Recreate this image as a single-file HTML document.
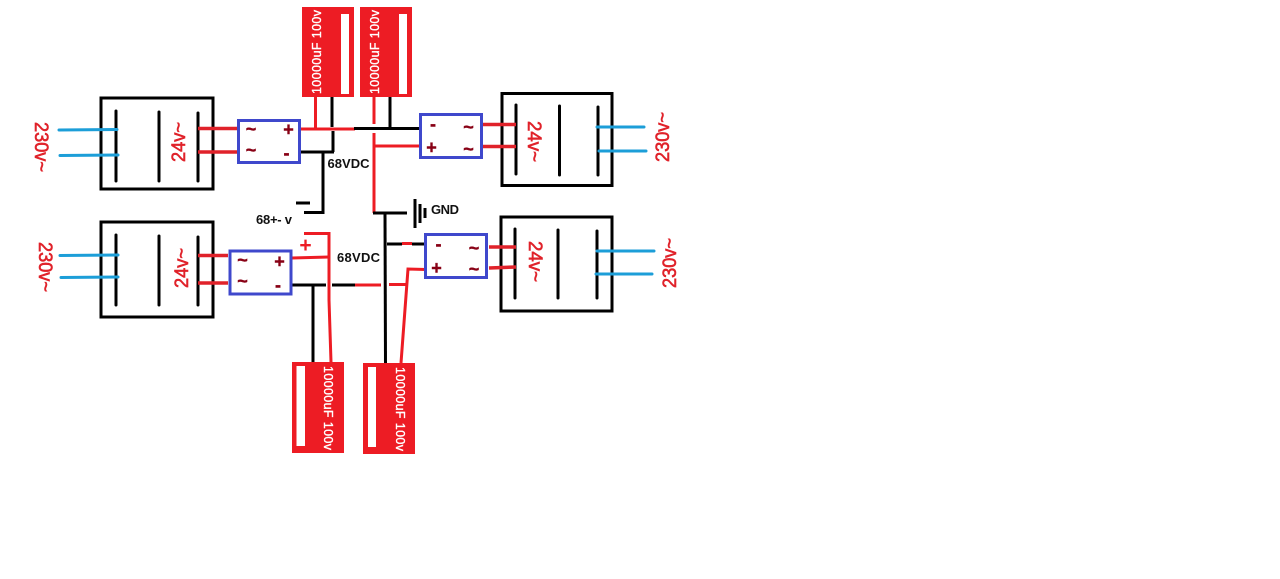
<!DOCTYPE html>
<html>
<head>
<meta charset="utf-8">
<style>
html,body{margin:0;padding:0;background:#fff;width:1280px;height:579px;overflow:hidden}
svg{display:block}
text{font-family:"Liberation Sans",sans-serif}
.cap{font-size:12.500px;fill:#fff;font-weight:400;stroke:#fff;stroke-width:.35}
.v{font-size:19px;fill:#e0222a;stroke:#e0222a;stroke-width:.6}
.lb{font-size:13px;font-weight:bold;fill:#111}
.br{fill:#880015;font-weight:bold;text-anchor:middle;stroke:#880015;stroke-width:.4}
</style>
</head>
<body>
<svg width="1280" height="579" viewBox="0 0 1280 579" xmlns="http://www.w3.org/2000/svg">
<rect width="1280" height="579" fill="#fff"/>

<!-- transformers -->
<g fill="none" stroke="#000" stroke-width="3">
<rect x="101" y="98" width="112" height="91"/>
<rect x="101" y="222" width="112" height="95"/>
<rect x="502" y="93.500" width="110" height="92"/>
<rect x="501" y="217" width="111" height="94"/>
</g>
<g stroke="#000" stroke-width="3" stroke-linecap="round">
<line x1="116" y1="111" x2="116" y2="181"/><line x1="159" y1="112" x2="159" y2="181"/><line x1="198" y1="113" x2="198" y2="181"/>
<line x1="116" y1="235" x2="116" y2="305"/><line x1="159" y1="236" x2="159" y2="305"/><line x1="198" y1="237" x2="198" y2="305"/>
<line x1="516" y1="105" x2="516" y2="174"/><line x1="559.500" y1="106" x2="559.500" y2="175"/><line x1="598" y1="107" x2="598" y2="175"/>
<line x1="515" y1="229" x2="515" y2="298"/><line x1="558" y1="230" x2="558" y2="298"/><line x1="597" y1="231" x2="597" y2="298"/>
</g>

<!-- mains wires -->
<g stroke="#1c9ed8" stroke-width="3" stroke-linecap="round">
<line x1="59" y1="130" x2="117" y2="129.500"/><line x1="60" y1="155.500" x2="118" y2="155"/>
<line x1="60" y1="255.500" x2="118" y2="255"/><line x1="61" y1="277.500" x2="118" y2="277"/>
<line x1="597" y1="127" x2="644" y2="127"/><line x1="599" y1="151" x2="646" y2="151"/>
<line x1="597" y1="251" x2="654" y2="251"/><line x1="596" y1="274" x2="652" y2="274"/>
</g>

<!-- secondary wires -->
<g stroke="#e0222a" stroke-width="3.500">
<line x1="198" y1="128.500" x2="237" y2="128.500"/><line x1="198" y1="152" x2="237" y2="152"/>
<line x1="198" y1="255.500" x2="228" y2="255.500"/><line x1="198" y1="283" x2="228" y2="283"/>
<line x1="483" y1="124.500" x2="516" y2="124.500"/><line x1="483" y1="146.500" x2="516" y2="146.500"/>
<line x1="489" y1="247" x2="516" y2="247"/><line x1="489" y1="268" x2="516" y2="267"/>
</g>

<!-- DC wiring red -->
<g stroke="#ed1c24" stroke-width="3" fill="none">
<line x1="315.500" y1="97" x2="315.500" y2="130"/>
<line x1="300" y1="129" x2="355" y2="129"/>
<line x1="374" y1="97" x2="374" y2="124"/>
<polyline points="374,133 374,213"/>
<line x1="374" y1="146" x2="421" y2="146"/>
<polyline points="304,233.500 329,233.500 329,300 331,362"/>
<line x1="292" y1="258" x2="329" y2="257"/>
<line x1="355" y1="285" x2="381" y2="285"/>
<line x1="389" y1="284.500" x2="407" y2="284.500"/>
<polyline points="426,269.500 408,269 401,363"/>
<line x1="402" y1="243.500" x2="412" y2="243.500"/>
</g>

<!-- DC wiring black -->
<g stroke="#000" stroke-width="3" fill="none">
<line x1="332" y1="97" x2="332" y2="127"/>
<line x1="333" y1="131" x2="333" y2="152"/>
<polyline points="298,152 334,152"/>
<polyline points="323,152 323,212.500 304,212.500"/>
<line x1="296" y1="203" x2="310" y2="203"/>
<line x1="354" y1="128.500" x2="423" y2="128.500"/>
<line x1="390" y1="97" x2="390" y2="128"/>
<line x1="373" y1="213" x2="407" y2="213"/>
<line x1="385" y1="213" x2="385.500" y2="364"/>
<polyline points="387,244 402,244"/><polyline points="412,244 427,244"/>
<line x1="288" y1="285" x2="326" y2="285"/>
<line x1="332" y1="285" x2="355" y2="285"/>
<line x1="313" y1="285" x2="313" y2="364"/>
<line x1="415" y1="199" x2="415" y2="228"/>
<line x1="420" y1="204" x2="420" y2="223"/>
<line x1="425" y1="208" x2="425" y2="218"/>
</g>

<!-- rectifiers -->
<g fill="#fff" stroke="#3f48cc" stroke-width="3">
<rect x="238.500" y="120.500" width="61" height="42"/>
<rect x="420.500" y="114.500" width="61" height="43"/>
<rect x="230" y="251" width="61" height="43"/>
<rect x="425.500" y="234.500" width="61" height="43"/>
</g>
<g class="br" font-size="18">
<text x="251" y="135">~</text><text x="251" y="156">~</text><text x="288.500" y="135.500">+</text><text x="286.500" y="159">-</text>
<text x="433" y="130">-</text><text x="431.500" y="153.500">+</text><text x="468.500" y="133">~</text><text x="468.500" y="155">~</text>
<text x="242.500" y="266">~</text><text x="242.500" y="287">~</text><text x="279.500" y="267.500">+</text><text x="278" y="291">-</text>
<text x="438.500" y="250">-</text><text x="436.500" y="274">+</text><text x="474" y="254">~</text><text x="474" y="275">~</text>
</g>
<text x="305.500" y="252" font-size="21" font-weight="bold" fill="#ed1c24" text-anchor="middle">+</text>

<!-- capacitors -->
<g fill="#ed1c24">
<rect x="302" y="7" width="52" height="90"/>
<rect x="360" y="7" width="52" height="90"/>
<rect x="292" y="362" width="52" height="91"/>
<rect x="363" y="363" width="52" height="91"/>
</g>
<g fill="#fff">
<rect x="341" y="14" width="8" height="80"/>
<rect x="399" y="14" width="8" height="80"/>
<rect x="296.500" y="366" width="8.500" height="80"/>
<rect x="368" y="367" width="8" height="80"/>
</g>
<text class="cap" transform="translate(321,94) rotate(-90)" textLength="84">10000uF 100v</text>
<text class="cap" transform="translate(379,94) rotate(-90)" textLength="84">10000uF 100v</text>
<text class="cap" transform="translate(324,366) rotate(90)" textLength="84">10000uF 100v</text>
<text class="cap" transform="translate(396,367) rotate(90)" textLength="84">10000uF 100v</text>

<!-- voltage labels -->
<text class="v" transform="translate(35,122) rotate(90)" textLength="50" lengthAdjust="spacingAndGlyphs">230v~</text>
<text class="v" transform="translate(39,242) rotate(90)" textLength="50" lengthAdjust="spacingAndGlyphs">230v~</text>
<text class="v" transform="translate(185,162) rotate(-90)" textLength="40" lengthAdjust="spacingAndGlyphs">24v~</text>
<text class="v" transform="translate(188,288) rotate(-90)" textLength="40" lengthAdjust="spacingAndGlyphs">24v~</text>
<text class="v" transform="translate(528,121) rotate(90)" textLength="41" lengthAdjust="spacingAndGlyphs">24v~</text>
<text class="v" transform="translate(529,241) rotate(90)" textLength="41" lengthAdjust="spacingAndGlyphs">24v~</text>
<text class="v" transform="translate(669,162) rotate(-90)" textLength="50" lengthAdjust="spacingAndGlyphs">230v~</text>
<text class="v" transform="translate(676,288) rotate(-90)" textLength="50" lengthAdjust="spacingAndGlyphs">230v~</text>

<!-- text labels -->
<text class="lb" x="327.500" y="168" textLength="42">68VDC</text>
<text class="lb" x="337" y="262" textLength="43">68VDC</text>
<text class="lb" x="431" y="214" textLength="28">GND</text>
<text class="lb" x="256" y="224" font-size="12" textLength="36">68+- v</text>
</svg>
</body>
</html>
